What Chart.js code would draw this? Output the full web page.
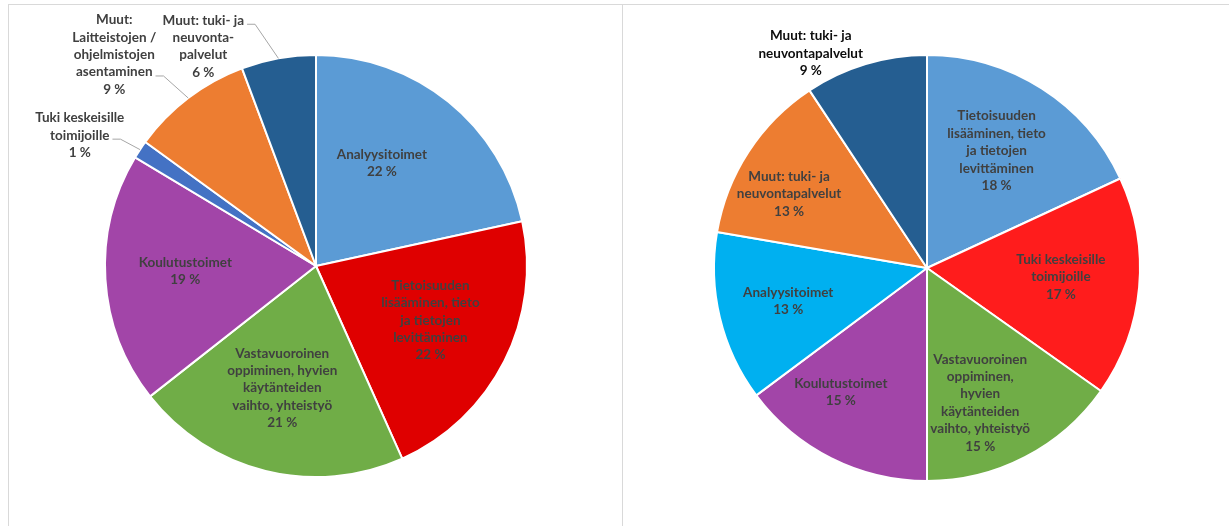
<!DOCTYPE html>
<html>
<head>
<meta charset="utf-8">
<script src="https://cdn.jsdelivr.net/npm/chart.js@4"></script>
<style>
  body { margin: 0; background: #fff; width: 1229px; height: 526px; overflow: hidden; position: relative; }
  .frame { position: absolute; left: 8px; top: 4px; width: 1400px; height: 600px; border-top: 1px solid #d9d9d9; border-left: 1px solid #d9d9d9; }
  .divider { position: absolute; left: 622px; top: 4px; width: 1px; height: 530px; background: #d9d9d9; }
  canvas { position: absolute; top: 0; }
</style>
</head>
<body>
<div class="frame"></div>
<div class="divider"></div>
<canvas id="leftPie" width="614" height="526" style="left:8px"></canvas>
<canvas id="rightPie" width="607" height="526" style="left:622px"></canvas>
<script>
// vasen kaavio
const leftLabels = [
  "Analyysitoimet",
  "Tietoisuuden\nlisääminen, tieto\nja tietojen\nlevittäminen",
  "Vastavuoroinen\noppiminen, hyvien\nkäytänteiden\nvaihto, yhteistyö",
  "Koulutustoimet",
  "Tuki keskeisille\ntoimijoille",
  "Muut:\nLaitteistojen /\nohjelmistojen\nasentaminen",
  "Muut: tuki- ja\nneuvonta-\npalvelut"
];
const leftValues = [21.6, 21.7, 21.1, 19.2, 1.4, 9.3, 5.7];
const leftColors = ["#5b9bd5", "#df0000", "#70ad47", "#a245a8", "#4472c4", "#ed7d31", "#255e91"];

// oikea kaavio
const rightLabels = [
  "Tietoisuuden\nlisääminen, tieto\nja tietojen\nlevittäminen",
  "Tuki keskeisille\ntoimijoille",
  "Vastavuoroinen\noppiminen,\nhyvien\nkäytänteiden\nvaihto, yhteistyö",
  "Koulutustoimet",
  "Analyysitoimet",
  "Muut: tuki- ja\nneuvontapalvelut",
  "Muut: tuki- ja\nneuvontapalvelut"
];
const rightValues = [18.1, 16.7, 15.2, 14.8, 12.9, 13.0, 9.3];
const rightColors = ["#5b9bd5", "#ff1c1c", "#70ad47", "#a245a8", "#00b0f0", "#ed7d31", "#255e91"];

const LINE_H = 17.4;

// piirtää arvot + nimet siivuihin (datalabels-pluginia ei ole)
const pieLabels = {
  id: "pieLabels",
  afterDatasetsDraw(chart, args, opts) {
    const ctx = chart.ctx;
    const meta = chart.getDatasetMeta(0);
    const values = chart.data.datasets[0].data;
    ctx.save();
    ctx.font = "bold 13.5px Lato";
    ctx.textAlign = "center";
    ctx.textBaseline = "middle";
    meta.data.forEach((arc, i) => {
      const p = arc.getProps(["x", "y", "startAngle", "endAngle", "outerRadius"], true);
      const mid = (p.startAngle + p.endAngle) / 2;
      const [dDeg, rf] = opts.pos[i];
      const a = mid + dDeg * Math.PI / 180;
      const cx = p.x + Math.cos(a) * rf * p.outerRadius;
      const cy = p.y + Math.sin(a) * rf * p.outerRadius;
      const lines = chart.data.labels[i].split("\n").concat([Math.round(values[i]) + " %"]);
      const top = cy - (lines.length - 1) * LINE_H / 2;
      ctx.fillStyle = rf > 1 ? opts.outsideColor : "#404040";
      lines.forEach((t, k) => ctx.fillText(t, cx, top + k * LINE_H));

      const li = opts.leaders[i];
      if (li != null) {
        const w = ctx.measureText(lines[li]).width;
        const sx = cx + w / 2 + 3;
        const sy = top + li * LINE_H + 4;
        const ex = p.x + Math.cos(mid) * p.outerRadius;
        const ey = p.y + Math.sin(mid) * p.outerRadius;
        ctx.strokeStyle = "#a6a6a6";
        ctx.lineWidth = 1;
        ctx.beginPath();
        ctx.moveTo(sx, sy);
        ctx.lineTo(sx + 8, sy);
        ctx.lineTo(ex, ey);
        ctx.stroke();
      }
    });
    ctx.restore();
  }
};

function makePie(id, labels, values, colors, padding, labelOpts) {
  return new Chart(document.getElementById(id), {
    type: "pie",
    data: {
      labels: labels,
      datasets: [{
        data: values,
        backgroundColor: colors,
        borderColor: "#ffffff",
        borderWidth: 2
      }]
    },
    options: {
      responsive: false,
      animation: false,
      layout: { padding: padding },
      plugins: {
        legend: { display: false },
        tooltip: { enabled: false },
        pieLabels: labelOpts
      }
    },
    plugins: [pieLabels]
  });
}

makePie("leftPie", leftLabels, leftValues, leftColors,
  { left: 96, right: 94, top: 54, bottom: 48 },
  {
    pos: [[-6.3, 0.58], [-1.5, 0.6], [1.6, 0.6], [1.4, 0.62], [-4.5, 1.28], [-6.4, 1.385], [-16.9, 1.17]],
    leaders: [null, null, null, null, 1, 3, 0],
    outsideColor: "#404040"
  });

makePie("rightPie", rightLabels, rightValues, rightColors,
  { left: 91, right: 88, top: 54, bottom: 44 },
  {
    pos: [[-1.9, 0.64], [-1.4, 0.63], [5.8, 0.68], [8.1, 0.71], [0, 0.67], [-4.9, 0.735], [-11.7, 1.146]],
    leaders: [null, null, null, null, null, null, null],
    outsideColor: "#0d0d0d"
  });
</script>
</body>
</html>
